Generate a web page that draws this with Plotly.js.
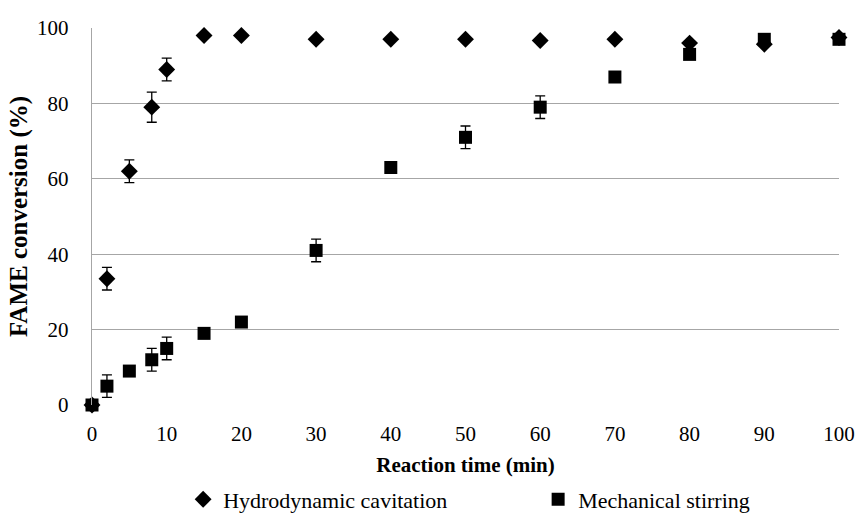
<!DOCTYPE html>
<html>
<head>
<meta charset="utf-8">
<script src="https://cdn.plot.ly/plotly-3.0.1.min.js"></script>
<style>html,body{margin:0;padding:0;background:#fff;}#chart{width:859px;height:514px;}</style>
</head>
<body>
<div id="chart"></div>
<script>
var timeMin = [0, 2, 5, 8, 10, 15, 20, 30, 40, 50, 60, 70, 80, 90, 100];
var cavitation = [0, 33.5, 62, 79, 89, 98, 98, 97, 97, 97, 96.7, 97, 96, 95.7, 97.5];
var cavitationErr = [0, 3, 3, 4, 3, 0, 0, 0, 0, 0, 0, 0, 0, 0, 0];
var stirring = [0, 5, 9, 12, 15, 19, 22, 41, 63, 71, 79, 87, 93, 97, 97];
var stirringErr = [0, 3, 0, 3, 3, 0, 0, 3, 0, 3, 3, 0, 0, 0, 0];
var xTicks = [0, 10, 20, 30, 40, 50, 60, 70, 80, 90, 100];
var yTicks = [0, 20, 40, 60, 80, 100];

var font = "Liberation Serif";
var traces = [
  {
    x: timeMin, y: cavitation, name: 'Hydrodynamic cavitation', type: 'scatter', mode: 'markers',
    marker: {symbol: 'diamond', size: 13, color: '#000'},
    error_y: {type: 'data', array: cavitationErr, visible: true, color: '#000', thickness: 1.3, width: 5},
    cliponaxis: false
  },
  {
    x: timeMin, y: stirring, name: 'Mechanical stirring', type: 'scatter', mode: 'markers',
    marker: {symbol: 'square', size: 13, color: '#000'},
    error_y: {type: 'data', array: stirringErr, visible: true, color: '#000', thickness: 1.3, width: 5},
    cliponaxis: false
  }
];
var layout = {
  width: 859, height: 514,
  margin: {l: 92, r: 20, t: 28, b: 109, autoexpand: false},
  paper_bgcolor: '#fff', plot_bgcolor: '#fff',
  font: {family: font, size: 21, color: '#000'},
  showlegend: true,
  legend: {orientation: 'h', x: 0.122, xanchor: 'left', y: -0.195, yanchor: 'top',
           font: {family: font, size: 22, color: '#000'}, entrywidth: 310, itemwidth: 30,
           tracegroupgap: 0},
  xaxis: {
    range: [0, 100], tickvals: xTicks, ticktext: xTicks.map(String),
    tickfont: {family: font, size: 21},
    showgrid: false, zeroline: false, showline: false, ticks: '', ticklabelstandoff: 14,
    title: {text: '<b>Reaction time (min)</b>', font: {family: font, size: 21}, standoff: 12},
    fixedrange: true
  },
  yaxis: {
    range: [0, 100], tickvals: yTicks, ticktext: yTicks.map(String),
    tickfont: {family: font, size: 21},
    showgrid: true, gridcolor: '#a6a6a6', gridwidth: 1.3, zeroline: false,
    showline: true, linecolor: '#a6a6a6', linewidth: 1.3, ticks: '', ticklabelstandoff: 18,
    title: {text: '<b>FAME conversion (%)</b>', font: {family: font, size: 25}, standoff: 2},
    fixedrange: true
  }
};
Plotly.newPlot('chart', traces, layout, {displayModeBar: false, staticPlot: true});
</script>
</body>
</html>
